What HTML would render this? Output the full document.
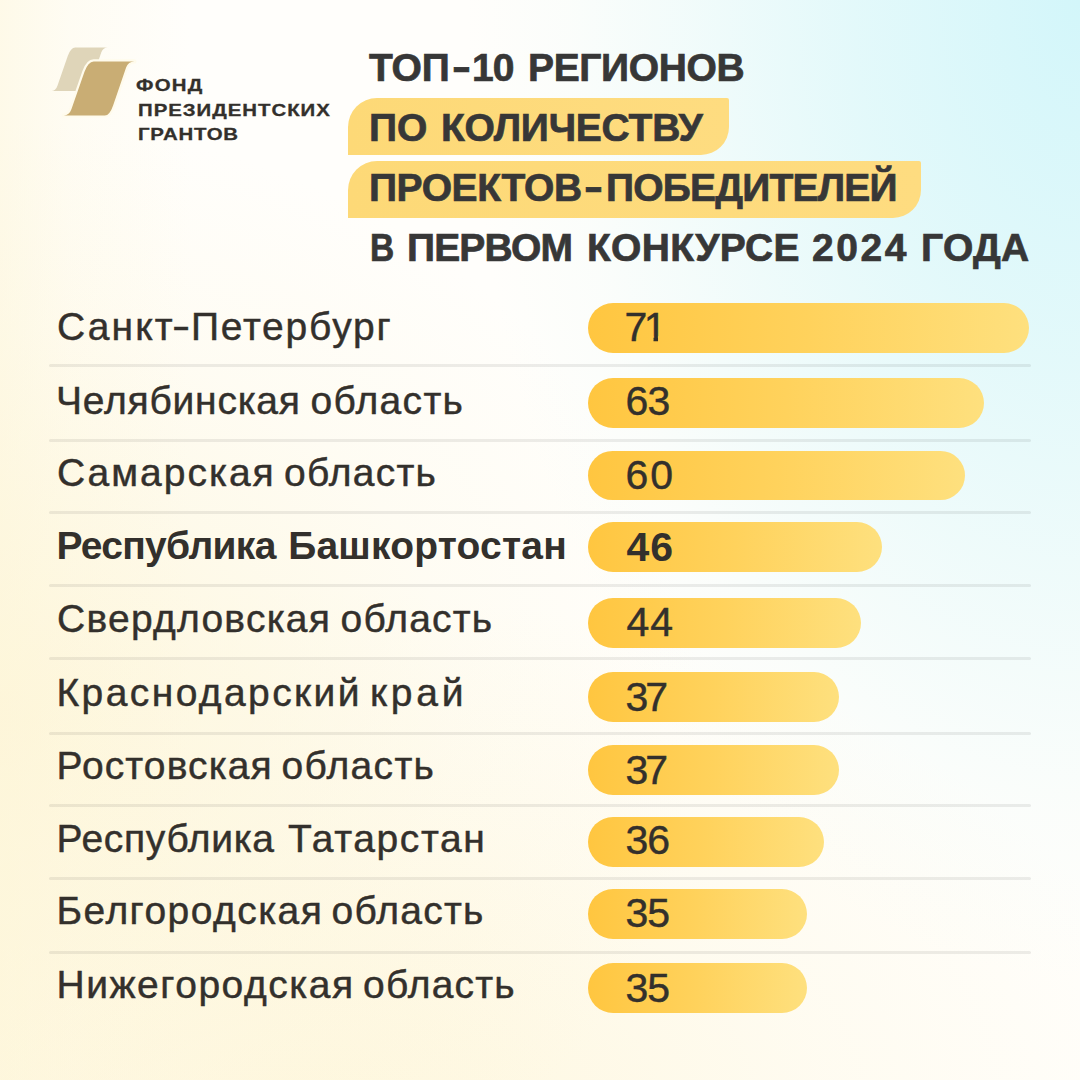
<!DOCTYPE html>
<html lang="ru">
<head>
<meta charset="utf-8">
<title>Топ-10 регионов</title>
<style>
html,body{margin:0;padding:0;}
body{width:1080px;height:1080px;overflow:hidden;position:relative;font-family:"Liberation Sans",sans-serif;color:#33302c;
background:
 radial-gradient(ellipse 640px 1020px at 1080px 0px, rgba(211,246,250,1) 0%, rgba(211,246,250,.64) 35%, rgba(211,246,250,.32) 60%, rgba(211,246,250,.09) 80%, rgba(211,246,250,0) 96%),
 linear-gradient(90deg, rgba(253,245,214,.5) 0px, rgba(253,245,214,.22) 70px, rgba(253,245,214,0) 190px),
 radial-gradient(ellipse 700px 600px at 0px 720px, rgba(253,245,214,.8) 0%, rgba(253,245,214,.52) 35%, rgba(253,245,214,.22) 65%, rgba(253,245,214,0) 100%),
 radial-gradient(ellipse 880px 540px at 300px 1130px, rgba(254,247,222,1) 0%, rgba(254,247,222,.8) 25%, rgba(254,247,222,.36) 60%, rgba(254,247,222,0) 100%),
 #fffefb;}
.t{position:absolute;white-space:nowrap;margin:0;padding:0;}
.hy{display:inline-block;margin:0 .07em;transform:translateY(-2px) scaleX(1.35);}
.one{display:inline-block;clip-path:polygon(0 0,100% 0,100% .715em,.35em .715em,.35em 100%,.24em 100%,.24em .715em,0 .715em);}
.bar{position:absolute;left:588px;height:49.5px;border-radius:25px;background:linear-gradient(90deg,#ffc640 0%,#ffd25c 50%,#fee07e 100%);}
.ln{position:absolute;left:48.5px;width:982px;height:3px;background:rgba(20,25,20,.078);border-radius:1.5px;}
.hl{position:absolute;left:348.4px;height:56.5px;background:linear-gradient(90deg,#fdd977 0%,#fedc80 100%);border-radius:29px 2px 28px 0;}
</style>
</head>
<body>
<svg class="t" style="left:40px;top:35px" width="110" height="95" viewBox="40 35 110 95">
<g transform="translate(49.4 91) scale(0.805) translate(-61.6 -115.4)">
<path d="M93.7 61.4 L134.3 61.4 Q128.2 61.4 126.1 67.4 L113.1 105.4 Q109.7 115.4 104.8 115.4 L63.8 115.4 Q69.3 115.4 71.5 109.1 L84.4 72 Q88.1 61.4 93.7 61.4 Z" fill="#dfd5b9"/>
</g>
<path d="M93.7 61.4 L134.3 61.4 Q128.2 61.4 126.1 67.4 L113.1 105.4 Q109.7 115.4 104.8 115.4 L63.8 115.4 Q69.3 115.4 71.5 109.1 L84.4 72 Q88.1 61.4 93.7 61.4 Z" fill="#fffbec" stroke="#fffbec" stroke-width="4.4" stroke-linejoin="round"/>
<path d="M93.7 61.4 L134.3 61.4 Q128.2 61.4 126.1 67.4 L113.1 105.4 Q109.7 115.4 104.8 115.4 L63.8 115.4 Q69.3 115.4 71.5 109.1 L84.4 72 Q88.1 61.4 93.7 61.4 Z" fill="#c9ad74"/>
</svg>
<div class="t lg" id="lg1" style="left:136.00px;top:77px;font-size:17px;line-height:17px;font-weight:700;letter-spacing:1.033px;transform:scaleX(1.2);transform-origin:0 0;-webkit-text-stroke:0.3px #33302c;">ФОНД</div>
<div class="t lg" id="lg2" style="left:138.00px;top:102px;font-size:17px;line-height:17px;font-weight:700;letter-spacing:0.814px;transform:scaleX(1.2);transform-origin:0 0;-webkit-text-stroke:0.3px #33302c;">ПРЕЗИДЕНТСКИХ</div>
<div class="t lg" id="lg3" style="left:138.00px;top:126px;font-size:17px;line-height:17px;font-weight:700;letter-spacing:0.650px;transform:scaleX(1.2);transform-origin:0 0;-webkit-text-stroke:0.3px #33302c;">ГРАНТОВ</div>
<div class="hl" style="top:98px;width:380.4px"></div>
<div class="hl" style="top:161px;width:572.6px"></div>
<div class="t ti" id="ti1a" style="left:369.00px;top:48px;font-size:39px;line-height:39px;font-weight:700;letter-spacing:-0.250px;-webkit-text-stroke:0.7px #373737;color:#373737;">ТОП</div>
<div class="t ti" id="ti1h" style="left:452.00px;top:48px;font-size:39px;line-height:39px;font-weight:700;letter-spacing:0.000px;-webkit-text-stroke:0.7px #373737;color:#373737;transform:translateY(-1.3px) scaleX(1.46);transform-origin:0 50%;">-</div>
<div class="t ti" id="ti1b" style="left:472.00px;top:48px;font-size:39px;line-height:39px;font-weight:700;letter-spacing:-0.900px;-webkit-text-stroke:0.7px #373737;color:#373737;">10</div>
<div class="t ti" id="ti1c" style="left:528.00px;top:48px;font-size:39px;line-height:39px;font-weight:700;letter-spacing:-0.371px;-webkit-text-stroke:0.7px #373737;color:#373737;">РЕГИОНОВ</div>
<div class="t ti" id="ti2a" style="left:369.00px;top:108px;font-size:39px;line-height:39px;font-weight:700;letter-spacing:-0.100px;-webkit-text-stroke:0.7px #373737;color:#373737;">ПО</div>
<div class="t ti" id="ti2b" style="left:441.00px;top:108px;font-size:39px;line-height:39px;font-weight:700;letter-spacing:-0.233px;-webkit-text-stroke:0.7px #373737;color:#373737;">КОЛИЧЕСТВУ</div>
<div class="t ti" id="ti3a" style="left:369.00px;top:168px;font-size:39px;line-height:39px;font-weight:700;letter-spacing:-0.414px;-webkit-text-stroke:0.7px #373737;color:#373737;">ПРОЕКТОВ</div>
<div class="t ti" id="ti3h" style="left:584.00px;top:168px;font-size:39px;line-height:39px;font-weight:700;letter-spacing:0.000px;-webkit-text-stroke:0.7px #373737;color:#373737;transform:translateY(-1.3px) scaleX(1.46);transform-origin:0 50%;">-</div>
<div class="t ti" id="ti3b" style="left:606.00px;top:168px;font-size:39px;line-height:39px;font-weight:700;letter-spacing:-0.800px;-webkit-text-stroke:0.7px #373737;color:#373737;">ПОБЕДИТЕЛЕЙ</div>
<div class="t ti" id="ti4a" style="left:370.00px;top:228px;font-size:39px;line-height:39px;font-weight:700;letter-spacing:0.000px;-webkit-text-stroke:0.7px #373737;color:#373737;transform:scaleX(.86);transform-origin:0 50%;">В</div>
<div class="t ti" id="ti4b" style="left:407.00px;top:228px;font-size:39px;line-height:39px;font-weight:700;letter-spacing:-0.840px;-webkit-text-stroke:0.7px #373737;color:#373737;">ПЕРВОМ</div>
<div class="t ti" id="ti4c" style="left:587.00px;top:228px;font-size:39px;line-height:39px;font-weight:700;letter-spacing:0.286px;-webkit-text-stroke:0.7px #373737;color:#373737;">КОНКУРСЕ</div>
<div class="t ti" id="ti4d" style="left:812.00px;top:228px;font-size:39px;line-height:39px;font-weight:700;letter-spacing:2.533px;-webkit-text-stroke:0.7px #373737;color:#373737;">2024</div>
<div class="t ti" id="ti4e" style="left:921.00px;top:228px;font-size:39px;line-height:39px;font-weight:700;letter-spacing:0.300px;-webkit-text-stroke:0.7px #373737;color:#373737;">ГОДА</div>
<div class="ln" style="top:363.5px"></div>
<div class="ln" style="top:439.3px"></div>
<div class="ln" style="top:510.5px"></div>
<div class="ln" style="top:584.3px"></div>
<div class="ln" style="top:656.8px"></div>
<div class="ln" style="top:731.8px"></div>
<div class="ln" style="top:803.5px"></div>
<div class="ln" style="top:876.5px"></div>
<div class="ln" style="top:951.3px"></div>
<div class="bar" style="top:303.0px;width:441.2px"></div>
<div class="t lb" id="lb0a" style="left:57.00px;top:307px;font-size:39px;line-height:39px;font-weight:400;letter-spacing:2.100px;-webkit-text-stroke:0.45px #33302c;">Санкт</div>
<div class="t lb" id="lb0h" style="left:172.00px;top:307px;font-size:39px;line-height:39px;font-weight:400;letter-spacing:0.000px;-webkit-text-stroke:0.45px #33302c;transform:translateY(-1.4px) scaleX(1.4);transform-origin:0 50%;">-</div>
<div class="t lb" id="lb0b" style="left:191.00px;top:307px;font-size:39px;line-height:39px;font-weight:400;letter-spacing:1.750px;-webkit-text-stroke:0.45px #33302c;">Петербург</div>
<div class="t nm" id="nm0" style="left:624.40px;top:307px;font-size:41px;line-height:41px;font-weight:400;letter-spacing:-3.500px;-webkit-text-stroke:0.45px #33302c;">7<span class="one">1</span></div>
<div class="bar" style="top:378.0px;width:396.2px"></div>
<div class="t lb" id="lb1a" style="left:56.00px;top:381px;font-size:39px;line-height:39px;font-weight:400;letter-spacing:0.780px;-webkit-text-stroke:0.45px #33302c;">Челябинская</div>
<div class="t lb" id="lb1b" style="left:310.50px;top:381px;font-size:39px;line-height:39px;font-weight:400;letter-spacing:1.333px;-webkit-text-stroke:0.45px #33302c;">область</div>
<div class="t nm" id="nm1" style="left:625.50px;top:381px;font-size:41px;line-height:41px;font-weight:400;letter-spacing:-0.800px;-webkit-text-stroke:0.45px #33302c;">63</div>
<div class="bar" style="top:450.8px;width:377.3px"></div>
<div class="t lb" id="lb2a" style="left:57.00px;top:453px;font-size:39px;line-height:39px;font-weight:400;letter-spacing:2.000px;-webkit-text-stroke:0.45px #33302c;">Самарская</div>
<div class="t lb" id="lb2b" style="left:284.00px;top:453px;font-size:39px;line-height:39px;font-weight:400;letter-spacing:1.233px;-webkit-text-stroke:0.45px #33302c;">область</div>
<div class="t nm" id="nm2" style="left:625.50px;top:455px;font-size:41px;line-height:41px;font-weight:400;letter-spacing:2.000px;-webkit-text-stroke:0.45px #33302c;">60</div>
<div class="bar" style="top:522.2px;width:294.0px"></div>
<div class="t lb" id="lb3a" style="left:56.50px;top:526px;font-size:39px;line-height:39px;font-weight:700;letter-spacing:-0.711px;">Республика</div>
<div class="t lb" id="lb3b" style="left:288.25px;top:526px;font-size:39px;line-height:39px;font-weight:700;letter-spacing:0.200px;">Башкортостан</div>
<div class="t nm" id="nm3" style="left:626.50px;top:527px;font-size:41px;line-height:41px;font-weight:700;letter-spacing:1.000px;">46</div>
<div class="bar" style="top:598.0px;width:273.1px"></div>
<div class="t lb" id="lb4a" style="left:57.00px;top:599px;font-size:39px;line-height:39px;font-weight:400;letter-spacing:1.255px;-webkit-text-stroke:0.45px #33302c;">Свердловская</div>
<div class="t lb" id="lb4b" style="left:340.50px;top:599px;font-size:39px;line-height:39px;font-weight:400;letter-spacing:1.200px;-webkit-text-stroke:0.45px #33302c;">область</div>
<div class="t nm" id="nm4" style="left:626.50px;top:602px;font-size:41px;line-height:41px;font-weight:400;letter-spacing:1.000px;-webkit-text-stroke:0.45px #33302c;">44</div>
<div class="bar" style="top:672.0px;width:250.7px"></div>
<div class="t lb" id="lb5a" style="left:56.50px;top:673px;font-size:39px;line-height:39px;font-weight:400;letter-spacing:2.400px;-webkit-text-stroke:0.45px #33302c;">Краснодарский</div>
<div class="t lb" id="lb5b" style="left:370.00px;top:673px;font-size:39px;line-height:39px;font-weight:400;letter-spacing:3.733px;-webkit-text-stroke:0.45px #33302c;">край</div>
<div class="t nm" id="nm5" style="left:625.50px;top:677px;font-size:41px;line-height:41px;font-weight:400;letter-spacing:-3.000px;-webkit-text-stroke:0.45px #33302c;">37</div>
<div class="bar" style="top:745.0px;width:250.7px"></div>
<div class="t lb" id="lb6a" style="left:56.50px;top:746px;font-size:39px;line-height:39px;font-weight:400;letter-spacing:1.111px;-webkit-text-stroke:0.45px #33302c;">Ростовская</div>
<div class="t lb" id="lb6b" style="left:281.50px;top:746px;font-size:39px;line-height:39px;font-weight:400;letter-spacing:1.333px;-webkit-text-stroke:0.45px #33302c;">область</div>
<div class="t nm" id="nm6" style="left:625.50px;top:750px;font-size:41px;line-height:41px;font-weight:400;letter-spacing:-3.000px;-webkit-text-stroke:0.45px #33302c;">37</div>
<div class="bar" style="top:817.0px;width:235.6px"></div>
<div class="t lb" id="lb7a" style="left:56.50px;top:819px;font-size:39px;line-height:39px;font-weight:400;letter-spacing:0.689px;-webkit-text-stroke:0.45px #33302c;">Республика</div>
<div class="t lb" id="lb7b" style="left:288.00px;top:819px;font-size:39px;line-height:39px;font-weight:400;letter-spacing:1.625px;-webkit-text-stroke:0.45px #33302c;">Татарстан</div>
<div class="t nm" id="nm7" style="left:625.50px;top:820px;font-size:41px;line-height:41px;font-weight:400;letter-spacing:-1.000px;-webkit-text-stroke:0.45px #33302c;">36</div>
<div class="bar" style="top:889.2px;width:218.5px"></div>
<div class="t lb" id="lb8a" style="left:56.50px;top:891px;font-size:39px;line-height:39px;font-weight:400;letter-spacing:1.455px;-webkit-text-stroke:0.45px #33302c;">Белгородская</div>
<div class="t lb" id="lb8b" style="left:331.50px;top:891px;font-size:39px;line-height:39px;font-weight:400;letter-spacing:1.233px;-webkit-text-stroke:0.45px #33302c;">область</div>
<div class="t nm" id="nm8" style="left:625.50px;top:893px;font-size:41px;line-height:41px;font-weight:400;letter-spacing:-1.000px;-webkit-text-stroke:0.45px #33302c;">35</div>
<div class="bar" style="top:963.0px;width:218.5px"></div>
<div class="t lb" id="lb9a" style="left:56.50px;top:965px;font-size:39px;line-height:39px;font-weight:400;letter-spacing:1.517px;-webkit-text-stroke:0.45px #33302c;">Нижегородская</div>
<div class="t lb" id="lb9b" style="left:363.00px;top:965px;font-size:39px;line-height:39px;font-weight:400;letter-spacing:1.200px;-webkit-text-stroke:0.45px #33302c;">область</div>
<div class="t nm" id="nm9" style="left:625.50px;top:968px;font-size:41px;line-height:41px;font-weight:400;letter-spacing:-1.000px;-webkit-text-stroke:0.45px #33302c;">35</div>
</body>
</html>
